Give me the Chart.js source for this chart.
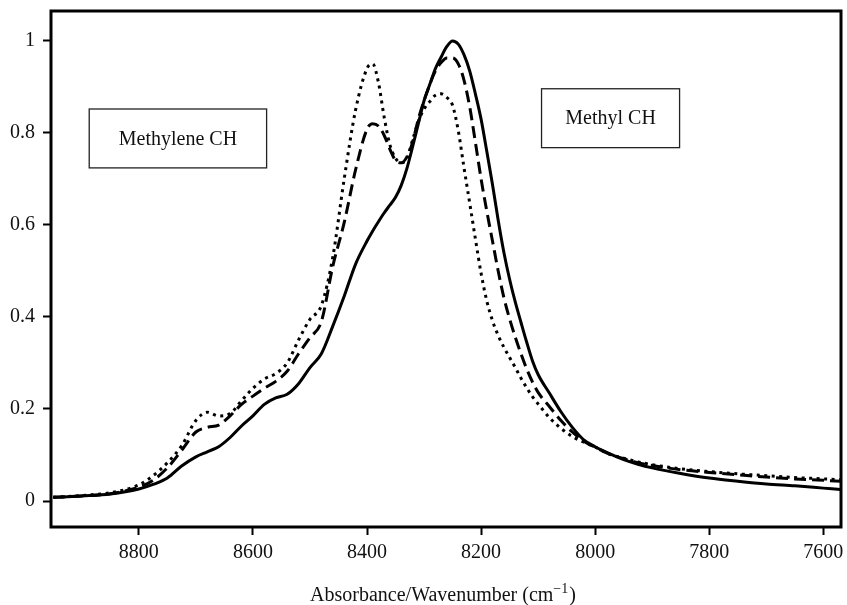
<!DOCTYPE html>
<html>
<head>
<meta charset="utf-8">
<script src="https://cdn.jsdelivr.net/npm/chart.js@4/dist/chart.umd.min.js"></script>
<style>
  html, body { margin: 0; padding: 0; background: #fff; }
  canvas { display: block; }
</style>
</head>
<body>
<canvas id="nir" width="847" height="605"></canvas>
<script>
// Wavenumber grid (cm-1), high to low
const wavenumbers = [
  8950, 8900, 8850, 8800, 8775, 8750, 8725, 8700, 8680, 8660, 8640, 8620, 8600,
  8580, 8560, 8540, 8520, 8500, 8480, 8460, 8440, 8420, 8400, 8390, 8380, 8370,
  8360, 8350, 8340, 8330, 8320, 8310, 8300, 8290, 8280, 8270, 8260, 8250, 8240,
  8230, 8220, 8210, 8200, 8190, 8180, 8170, 8160, 8150, 8140, 8130, 8120, 8110,
  8100, 8080, 8060, 8040, 8020, 8000, 7975, 7950, 7925, 7900, 7850, 7800, 7750,
  7700, 7650, 7600, 7570
];

// Solid trace
const spectrumSolid = [
  0.008, 0.011, 0.015, 0.026, 0.036, 0.050, 0.076, 0.096, 0.107, 0.118, 0.138, 0.163, 0.185,
  0.210, 0.224, 0.232, 0.255, 0.290, 0.320, 0.380, 0.445, 0.515, 0.565, 0.587, 0.607, 0.626,
  0.643, 0.660, 0.686, 0.723, 0.770, 0.820, 0.870, 0.905, 0.940, 0.965, 0.988, 1.000, 0.993,
  0.970, 0.935, 0.885, 0.830, 0.760, 0.688, 0.610, 0.540, 0.482, 0.432, 0.388, 0.345, 0.305,
  0.275, 0.234, 0.194, 0.160, 0.133, 0.118, 0.103, 0.090, 0.080, 0.072, 0.060, 0.050, 0.043,
  0.037, 0.033, 0.028, 0.025
];

// Dashed trace
const spectrumDashed = [
  0.008, 0.011, 0.016, 0.030, 0.045, 0.072, 0.110, 0.150, 0.160, 0.165, 0.185, 0.210, 0.228,
  0.245, 0.260, 0.282, 0.320, 0.355, 0.390, 0.510, 0.605, 0.720, 0.808, 0.820, 0.815, 0.795,
  0.765, 0.740, 0.735, 0.748, 0.780, 0.830, 0.870, 0.905, 0.935, 0.953, 0.963, 0.963, 0.950,
  0.915, 0.857, 0.780, 0.700, 0.630, 0.565, 0.500, 0.442, 0.396, 0.356, 0.320, 0.287, 0.259,
  0.236, 0.205, 0.175, 0.150, 0.130, 0.117, 0.102, 0.092, 0.083, 0.077, 0.068, 0.062, 0.057,
  0.052, 0.048, 0.045, 0.043
];

// Dotted trace
const spectrumDotted = [
  0.008, 0.012, 0.018, 0.035, 0.055, 0.083, 0.120, 0.175, 0.193, 0.185, 0.190, 0.218, 0.245,
  0.265, 0.277, 0.300, 0.350, 0.395, 0.425, 0.530, 0.700, 0.850, 0.940, 0.950, 0.910, 0.835,
  0.775, 0.745, 0.735, 0.745, 0.785, 0.825, 0.852, 0.868, 0.882, 0.885, 0.877, 0.860, 0.805,
  0.725, 0.648, 0.570, 0.495, 0.435, 0.392, 0.360, 0.334, 0.312, 0.290, 0.267, 0.246, 0.227,
  0.211, 0.181, 0.158, 0.140, 0.128, 0.117, 0.102, 0.093, 0.085, 0.079, 0.070, 0.064, 0.059,
  0.055, 0.051, 0.048, 0.046
];

const xTicks = [8800, 8600, 8400, 8200, 8000, 7800, 7600];
const xTickLabels = ['8800', '8600', '8400', '8200', '8000', '7800', '7600'];
const yTicks = [0, 0.2, 0.4, 0.6, 0.8, 1];
const yTickLabels = ['0', '0.2', '0.4', '0.6', '0.8', '1'];

// Band annotations: [label, x-from, x-to, y-top, y-bottom] in data units
const bandLabels = [
  ['Methylene CH', 8887, 8576, 0.852, 0.724],
  ['Methyl CH', 8094, 7852, 0.896, 0.768]
];

const axisTitle = { main: 'Absorbance/Wavenumber (cm', sup: '\u22121', tail: ')' };

const SERIF = "'Liberation Serif', 'DejaVu Serif', serif";

function toPoints(values) {
  return wavenumbers.map((w, i) => ({ x: w, y: values[i] }));
}

const framePlugin = {
  id: 'frameAndNotes',
  afterDraw(chart) {
    const { ctx, chartArea: a, scales } = chart;
    const xs = scales.x, ys = scales.y;
    ctx.save();
    // plot frame
    ctx.strokeStyle = '#000';
    ctx.lineWidth = 3;
    ctx.strokeRect(a.left, a.top, a.right - a.left, a.bottom - a.top);

    // band label boxes
    ctx.lineWidth = 1.3;
    ctx.strokeStyle = '#222';
    ctx.font = '20px ' + SERIF;
    ctx.textAlign = 'center';
    ctx.textBaseline = 'middle';
    bandLabels.forEach(([text, x0, x1, yt, yb]) => {
      const l = xs.getPixelForValue(x0), r = xs.getPixelForValue(x1);
      const t = ys.getPixelForValue(yt), b = ys.getPixelForValue(yb);
      ctx.fillStyle = '#fff';
      ctx.fillRect(l, t, r - l, b - t);
      ctx.strokeRect(l, t, r - l, b - t);
      ctx.fillStyle = '#111';
      ctx.fillText(text, (l + r) / 2, (t + b) / 2 + 1);
    });

    // x-axis title with superscript
    ctx.textAlign = 'left';
    ctx.textBaseline = 'alphabetic';
    ctx.font = '20px ' + SERIF;
    const w1 = ctx.measureText(axisTitle.main).width;
    const w3 = ctx.measureText(axisTitle.tail).width;
    ctx.font = '14px ' + SERIF;
    const w2 = ctx.measureText(axisTitle.sup).width;
    const total = w1 + w2 + 1 + w3;
    const cx = (a.left + a.right) / 2 - 3;
    let x = cx - total / 2;
    const base = 601;
    ctx.fillStyle = '#111';
    ctx.font = '20px ' + SERIF;
    ctx.fillText(axisTitle.main, x, base);
    x += w1;
    ctx.font = '14px ' + SERIF;
    ctx.fillText(axisTitle.sup, x, base - 8);
    x += w2 + 1;
    ctx.font = '20px ' + SERIF;
    ctx.fillText(axisTitle.tail, x, base);
    ctx.restore();
  }
};

const common = {
  borderColor: '#000',
  borderWidth: 3,
  pointRadius: 0,
  fill: false,
  cubicInterpolationMode: 'monotone'
};

new Chart(document.getElementById('nir'), {
  type: 'line',
  data: {
    datasets: [
      Object.assign({ data: toPoints(spectrumDotted), borderDash: [3, 4.5] }, common),
      Object.assign({ data: toPoints(spectrumDashed), borderDash: [12, 6] }, common),
      Object.assign({ data: toPoints(spectrumSolid) }, common)
    ]
  },
  options: {
    responsive: false,
    animation: false,
    layout: { padding: { top: 11, right: 6, left: 0, bottom: 0 } },
    plugins: { legend: { display: false }, tooltip: { enabled: false } },
    scales: {
      x: {
        type: 'linear',
        reverse: true,
        min: 7569,
        max: 8954,
        afterFit(s) { s.height = 78; s.paddingLeft = 0; s.paddingRight = 0; },
        afterBuildTicks(s) { s.ticks = xTicks.map(v => ({ value: v })); },
        border: { display: false },
        grid: { drawOnChartArea: false, drawTicks: true, tickLength: 8, tickWidth: 2, color: '#000' },
        ticks: {
          color: '#111',
          padding: 6,
          maxRotation: 0,
          font: { family: SERIF, size: 20 },
          callback(v) { const i = xTicks.indexOf(v); return i >= 0 ? xTickLabels[i] : ''; }
        }
      },
      y: {
        type: 'linear',
        min: -0.0565,
        max: 1.065,
        afterFit(s) { s.width = 51; s.paddingTop = 0; s.paddingBottom = 0; },
        afterBuildTicks(s) { s.ticks = yTicks.map(v => ({ value: v })); },
        border: { display: false },
        grid: { drawOnChartArea: false, drawTicks: true, tickLength: 8, tickWidth: 2, color: '#000' },
        ticks: {
          color: '#111',
          padding: 8,
          font: { family: SERIF, size: 20 },
          callback(v) { const i = yTicks.indexOf(v); return i >= 0 ? yTickLabels[i] : ''; }
        }
      }
    }
  },
  plugins: [framePlugin]
});
</script>
</body>
</html>
